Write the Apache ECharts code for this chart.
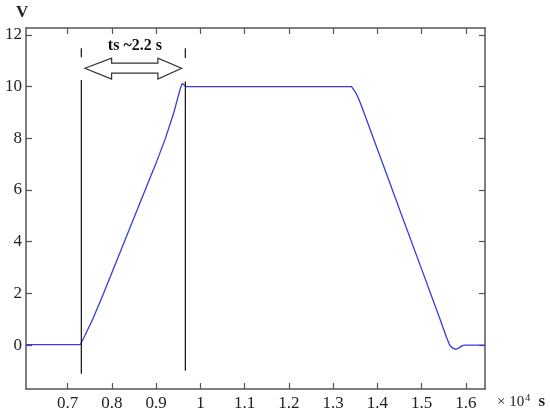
<!DOCTYPE html>
<html>
<head>
<meta charset="utf-8">
<script src="https://cdn.jsdelivr.net/npm/echarts@6/dist/echarts.min.js"></script>
<style>
  html, body { margin: 0; padding: 0; background: #fff; }
  #chart { width: 550px; height: 415px; }
</style>
</head>
<body>
<div id="chart"></div>
<script>
// time in units of 1e4 s, voltage in V
const timeVals = [0.606, 0.729, 0.74, 0.758, 0.78, 0.80, 0.82, 0.84, 0.86, 0.88, 0.90, 0.92, 0.94, 0.955, 0.959, 0.963, 0.968, 0.972,
  1.3415, 1.35, 1.357, 1.364, 1.40, 1.45, 1.50, 1.54, 1.556, 1.563, 1.570, 1.577, 1.585, 1.592, 1.598, 1.643]
const voltVals = [0.02, 0.02, 0.4, 1.05, 1.95, 2.8, 3.65, 4.5, 5.35, 6.2, 7.05, 7.95, 9.0, 9.95, 10.12, 10.1, 10.0, 10.0,
  10.0, 9.8, 9.55, 9.25, 7.58, 5.25, 2.93, 1.07, 0.3, 0.0, -0.12, -0.17, -0.1, -0.02, 0.0, 0.0]

const xTicks = [0.7, 0.8, 0.9, 1.0, 1.1, 1.2, 1.3, 1.4, 1.5, 1.6]
const yTicks = [0, 2, 4, 6, 8, 10, 12]
const xRange = [0.606, 1.643]
const yRange = [-1.7, 12.27]

// vertical markers: x, dash [top, bottom], solid [top, bottom]
const markerX = [0.731, 0.966]
const markerDash = [[11.49, 11.14], [11.49, 11.11]]
const markerSolid = [[10.26, -1.11], [10.2, -0.99]]

// hollow double arrow outline (data coords)
const arrowX = [0.739, 0.7994, 0.7994, 0.904, 0.904, 0.9576, 0.904, 0.904, 0.7994, 0.7994]
const arrowY = [10.71, 11.10, 10.91, 10.91, 11.10, 10.71, 10.29, 10.52, 10.52, 10.29]
const arrowLabel = 'ts ~2.2 s'
const arrowLabelPos = [0.852, 11.56]

const serif = '"Liberation Serif", "DejaVu Serif", serif'
const axisColor = '#555'

const chart = echarts.init(document.getElementById('chart'))

const fmt = v => String(+v.toFixed(1))

const xAxisBase = {
  type: 'value',
  min: xRange[0],
  max: xRange[1],
  axisLine: { onZero: false, lineStyle: { color: axisColor, width: 1.5 } },
  axisTick: { inside: true, length: 6, customValues: xTicks, lineStyle: { color: axisColor, width: 1.2 } },
  splitLine: { show: false }
}
const yAxisBase = {
  type: 'value',
  min: yRange[0],
  max: yRange[1],
  axisLine: { onZero: false, lineStyle: { color: axisColor, width: 1.5 } },
  axisTick: { inside: true, length: 6, customValues: yTicks, lineStyle: { color: axisColor, width: 1.2 } },
  splitLine: { show: false }
}

const option = {
  backgroundColor: '#fff',
  animation: false,
  grid: { left: 26, right: 65, top: 28, bottom: 26 },
  xAxis: [
    Object.assign({}, xAxisBase, {
      position: 'bottom',
      axisLabel: { customValues: xTicks, formatter: fmt, fontFamily: serif, fontSize: 17, color: '#222', margin: 6 }
    }),
    Object.assign({}, xAxisBase, { position: 'top', axisLabel: { show: false } })
  ],
  yAxis: [
    Object.assign({}, yAxisBase, {
      position: 'left',
      axisLabel: { customValues: yTicks, fontFamily: serif, fontSize: 17, color: '#222', margin: 4 }
    }),
    Object.assign({}, yAxisBase, { position: 'right', axisLabel: { show: false } })
  ],
  graphic: [
    { type: 'text', left: 16, top: 4, style: { text: 'V', font: 'bold 17px ' + serif, fill: '#222' } },
    {
      type: 'text', left: 497, top: 393,
      style: {
        text: '{a|× 10}{b|4} {c|s}',
        rich: {
          a: { font: '15px ' + serif, fill: '#222' },
          b: { font: '10px ' + serif, fill: '#222', verticalAlign: 'top', padding: [0, 0, 8, 1] },
          c: { font: 'bold 17px ' + serif, fill: '#222', padding: [0, 0, 0, 5] }
        }
      }
    }
  ],
  series: [
    {
      type: 'line',
      data: timeVals.map((t, i) => [t, voltVals[i]]),
      showSymbol: false,
      lineStyle: { color: '#3a3ae0', width: 1.3 },
      z: 3
    },
    {
      type: 'custom',
      data: markerX.map((x, i) => [x, i]),
      renderItem: (params, api) => {
        const x = api.value(0)
        const i = api.value(1)
        const d0 = api.coord([x, markerDash[i][0]])
        const d1 = api.coord([x, markerDash[i][1]])
        const s0 = api.coord([x, markerSolid[i][0]])
        const s1 = api.coord([x, markerSolid[i][1]])
        const st = { stroke: '#111', lineWidth: 1.2 }
        return {
          type: 'group',
          children: [
            { type: 'line', shape: { x1: d0[0], y1: d0[1], x2: d1[0], y2: d1[1] }, style: st },
            { type: 'line', shape: { x1: s0[0], y1: s0[1], x2: s1[0], y2: s1[1] }, style: st }
          ]
        }
      },
      z: 4
    },
    {
      type: 'custom',
      data: [[arrowLabelPos[0], arrowLabelPos[1]]],
      renderItem: (params, api) => {
        const pts = arrowX.map((x, i) => api.coord([x, arrowY[i]]))
        const tp = api.coord([api.value(0), api.value(1)])
        return {
          type: 'group',
          children: [
            { type: 'polygon', shape: { points: pts }, style: { fill: '#fff', stroke: '#333', lineWidth: 1.2 } },
            {
              type: 'text',
              style: {
                text: arrowLabel, x: tp[0], y: tp[1],
                align: 'center', verticalAlign: 'middle',
                font: 'bold 16px ' + serif, fill: '#111'
              }
            }
          ]
        }
      },
      z: 5
    }
  ]
}

chart.setOption(option)
</script>
</body>
</html>
